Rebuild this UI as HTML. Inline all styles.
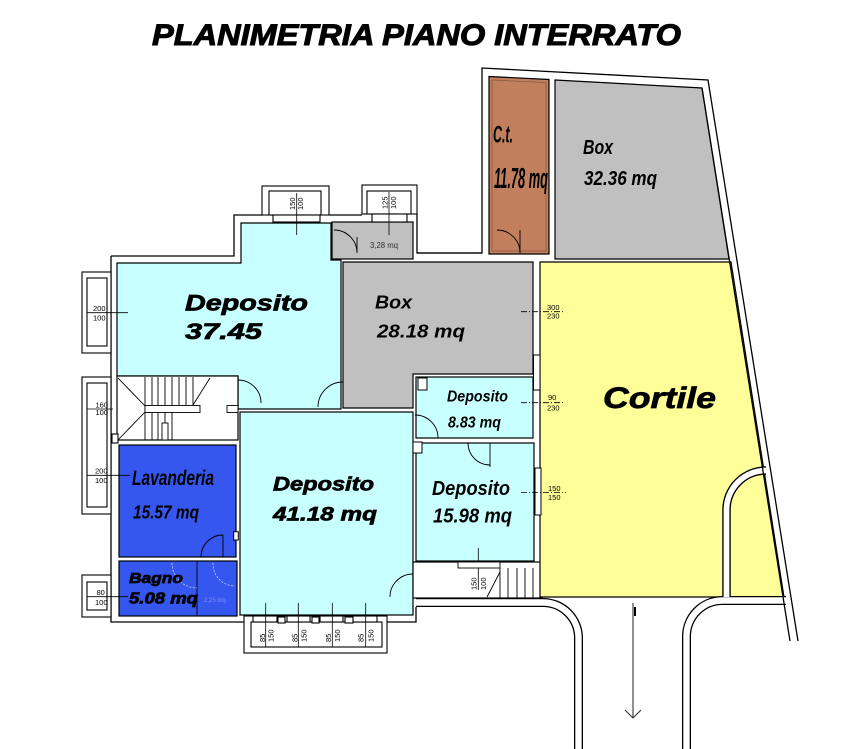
<!DOCTYPE html>
<html><head><meta charset="utf-8"><style>
html,body{margin:0;padding:0;background:#fff;overflow:hidden}
svg{display:block}
text{font-family:"Liberation Sans",Arial,sans-serif}
.r{font-weight:bold;font-style:italic;fill:#000}
.h{stroke:#000;stroke-width:0.7}
.d{font-size:7.5px;fill:#000}
</style></head><body>
<svg xmlns="http://www.w3.org/2000/svg" width="864" height="749" viewBox="0 0 864 749">
<rect width="864" height="749" fill="#fff"/>

<!-- Title -->
<text x="152" y="45" class="r" font-size="29.5" textLength="529" lengthAdjust="spacingAndGlyphs" stroke="#000" stroke-width="1">PLANIMETRIA PIANO INTERRATO</text>

<!-- Room fills -->
<g stroke="#000" stroke-width="1.2">
 <path fill="#c8ffff" d="M117,263H241V223H331V260H341V409H238V376H117Z"/>
 <rect x="332" y="222" width="81" height="37" fill="#c0c0c0"/>
 <path fill="#c0c0c0" d="M343,262H533V374H413V408H343Z"/>
 <rect x="117" y="376" width="121" height="64" fill="#fff"/>
 <rect x="119" y="445" width="117" height="112" fill="#3557f0"/>
 <rect x="119" y="561" width="118" height="55" fill="#3557f0"/>
 <rect x="240" y="412" width="173" height="203" fill="#c8ffff"/>
 <rect x="416" y="377" width="117" height="61" fill="#c8ffff"/>
 <rect x="416" y="443" width="118" height="118" fill="#c8ffff"/>
 <rect x="413" y="562" width="129" height="36" fill="#fff"/>
 <path fill="#c17f5e" d="M489,76.5L549,79.5V254H489Z"/>
 <path fill="#c0c0c0" d="M555,80L702,88L729,259H555Z"/>
 <path fill="#ffff99" d="M540,262H731L784,597H540Z"/>
</g>
<path d="M492,80L546,82.5V251H492Z" fill="none" stroke="#8a5a40" stroke-width="0.8"/>

<!-- Curbs -->
<g fill="none">
 <path d="M416,602.5H543A35.5,35.5 0 0 1 578.5,638V749" stroke="#000" stroke-width="9"/>
 <path d="M416,602.5H543A35.5,35.5 0 0 1 578.5,638V749" stroke="#fff" stroke-width="6.4"/>
 <path d="M786,600.5H722A36,36 0 0 0 686.5,636.5V749" stroke="#000" stroke-width="9"/>
 <path d="M786,600.5H722A36,36 0 0 0 686.5,636.5V749" stroke="#fff" stroke-width="6.4"/>
 <path d="M726.5,597V510A39.5,39.5 0 0 1 766,470.5" stroke="#000" stroke-width="8.5"/>
 <path d="M726.5,597V510A39.5,39.5 0 0 1 766,470.5" stroke="#fff" stroke-width="5.8"/>
</g>

<!-- Outer wall lines -->
<g fill="none" stroke="#000" stroke-width="1.3">
 <path d="M111,256H234V215H262M329,215H362M417,214V253H482V68L708,80L798,641"/>
 <path d="M702,88L790,641"/>
 <path d="M111,256V622H244M387,622H416V607"/>
 <path d="M417,253H482"/>
</g>

<!-- Top windows -->
<g stroke="#000" stroke-width="1.1" fill="#fff">
 <rect x="262" y="186" width="67" height="29"/>
 <rect x="269" y="191" width="52" height="24"/>
 <rect x="273" y="215" width="47" height="7"/>
 <rect x="362" y="185" width="55" height="29"/>
 <rect x="367" y="191" width="44" height="23"/>
 <rect x="372" y="214" width="35" height="8"/>
</g>
<g stroke="#000" stroke-width="0.8">
 <line x1="296.7" y1="193" x2="296.7" y2="235"/>
 <line x1="389" y1="192" x2="389" y2="235"/>
</g>
<text class="d" transform="translate(295,210) rotate(-90)">150</text>
<text class="d" transform="translate(303,210) rotate(-90)">100</text>
<text class="d" transform="translate(387.5,209) rotate(-90)">125</text>
<text class="d" transform="translate(396,209) rotate(-90)">100</text>

<!-- Left windows -->
<g stroke="#000" stroke-width="1.1" fill="#fff">
 <rect x="82" y="272" width="29" height="81"/>
 <rect x="87" y="278" width="20" height="68"/>
 <rect x="82" y="377" width="29" height="137"/>
 <rect x="87" y="383" width="20" height="124"/>
 <rect x="82" y="575" width="29" height="42"/>
 <rect x="87" y="582" width="20" height="28"/>
 <rect x="112" y="434" width="6" height="9"/>
</g>
<g stroke="#000" stroke-width="0.8">
 <line x1="87" y1="312.7" x2="128" y2="312.7"/>
 <line x1="87" y1="409" x2="113" y2="409"/>
 <line x1="87" y1="475.3" x2="130" y2="475.3"/>
 <line x1="87" y1="596.7" x2="128" y2="596.7"/>
</g>
<text class="d" x="93" y="311">200</text>
<text class="d" x="93" y="320.5">100</text>
<text class="d" x="95.5" y="407.5">160</text>
<text class="d" x="95.5" y="415">100</text>
<text class="d" x="95" y="473.5">200</text>
<text class="d" x="95" y="483">100</text>
<text class="d" x="96.5" y="595">80</text>
<text class="d" x="95" y="605">100</text>

<!-- Bottom window -->
<g stroke="#000" stroke-width="1.1" fill="#fff">
 <rect x="244" y="616" width="143" height="37"/>
 <rect x="251" y="622" width="131" height="25"/>
 <rect x="253" y="616" width="24" height="6"/>
 <rect x="287" y="616" width="23" height="6"/>
 <rect x="320" y="616" width="23" height="6"/>
 <rect x="353" y="616" width="24" height="6"/>
 <rect x="278" y="617" width="7" height="6"/>
 <rect x="312" y="617" width="7" height="6"/>
 <rect x="345" y="617" width="8" height="6"/>
</g>
<g stroke="#000" stroke-width="0.8">
 <line x1="265.7" y1="603" x2="265.7" y2="647"/>
 <line x1="298.3" y1="603" x2="298.3" y2="647"/>
 <line x1="332.3" y1="603" x2="332.3" y2="647"/>
 <line x1="365.7" y1="603" x2="365.7" y2="647"/>
</g>
<text class="d" transform="translate(265,642) rotate(-90)">85</text>
<text class="d" transform="translate(273.5,642) rotate(-90)">150</text>
<text class="d" transform="translate(297.7,642) rotate(-90)">85</text>
<text class="d" transform="translate(306.7,642) rotate(-90)">150</text>
<text class="d" transform="translate(331,642) rotate(-90)">85</text>
<text class="d" transform="translate(340,642) rotate(-90)">150</text>
<text class="d" transform="translate(363.5,642) rotate(-90)">85</text>
<text class="d" transform="translate(373.3,642) rotate(-90)">150</text>

<!-- East wall windows & dims -->
<g stroke="#000" stroke-width="1" fill="#fff">
 <rect x="533.5" y="355" width="6.5" height="35"/>
 <rect x="535" y="468" width="6" height="47"/>
 <rect x="418" y="378" width="9" height="12"/>
 <rect x="413" y="442" width="9" height="11"/>
 <rect x="233.7" y="531.7" width="4.6" height="8.3"/>
</g>
<g stroke="#000" stroke-width="0.8">
 <line x1="521" y1="311.7" x2="565" y2="311.7" stroke-dasharray="6,2,1,2"/>
 <line x1="521" y1="402.7" x2="565" y2="402.7" stroke-dasharray="6,2,1,2"/>
 <line x1="521" y1="492.4" x2="566" y2="492.4" stroke-dasharray="6,2,1,2"/>
 <line x1="478.3" y1="548" x2="478.3" y2="590"/>
</g>
<text class="d" x="547" y="310">300</text>
<text class="d" x="547" y="318.5">230</text>
<text class="d" x="548" y="400">90</text>
<text class="d" x="547" y="410.5">230</text>
<text class="d" x="548" y="491">150</text>
<text class="d" x="548" y="500">150</text>
<text class="d" transform="translate(476.7,590) rotate(-90)">150</text>
<text class="d" transform="translate(486,590) rotate(-90)">100</text>

<!-- Left stairs -->
<g stroke="#000" stroke-width="0.9" fill="none">
 <line x1="118" y1="378" x2="145" y2="406"/>
 <line x1="118" y1="440" x2="145" y2="412"/>
 <line x1="145" y1="377" x2="145" y2="440"/>
 <line x1="152" y1="377" x2="152" y2="405"/>
 <line x1="158" y1="377" x2="158" y2="405"/>
 <line x1="165" y1="377" x2="165" y2="405"/>
 <line x1="172" y1="377" x2="172" y2="405"/>
 <line x1="179" y1="377" x2="179" y2="405"/>
 <line x1="186" y1="377" x2="186" y2="405"/>
 <line x1="193" y1="377" x2="193" y2="405"/>
 <line x1="152" y1="412" x2="152" y2="440"/>
 <line x1="158" y1="412" x2="158" y2="440"/>
 <line x1="165" y1="412" x2="165" y2="440"/>
 <line x1="172" y1="412" x2="172" y2="440"/>
 <line x1="193" y1="405" x2="210" y2="378"/>
 <rect x="145" y="405.5" width="55" height="7" fill="#fff"/>
 <rect x="227" y="405.5" width="11" height="7" fill="#fff"/>
 <rect x="162" y="423" width="6" height="17" fill="#fff"/>
</g>

<!-- Corridor stairs -->
<g stroke="#000" stroke-width="0.9" fill="none">
 <rect x="458" y="562" width="42" height="6" fill="#fff"/>
 <line x1="500" y1="568" x2="500" y2="598"/>
 <line x1="508" y1="568" x2="508" y2="598"/>
 <line x1="517" y1="568" x2="517" y2="598"/>
 <line x1="525" y1="568" x2="525" y2="598"/>
 <line x1="533" y1="568" x2="533" y2="598"/>
 <line x1="487" y1="597" x2="500" y2="572"/>
</g>

<!-- Doors -->
<g stroke="#000" stroke-width="0.9" fill="none">
 <path d="M238,380A23,23 0 0 1 261,403"/>
 <path d="M318,407A25,25 0 0 1 343,382"/>
 <path d="M334,230A23,23 0 0 1 357,253M357,237V253"/>
 <path d="M497,230A23,23 0 0 1 520,253M520,230V253"/>
 <path d="M415,415A23,23 0 0 1 438,438"/>
 <path d="M468,443A22,22 0 0 0 490,465M490,443V467"/>
 <path d="M390,597A23,23 0 0 1 413,574"/>
 <path d="M201,557A22,22 0 0 1 223,535M223,535V557"/>
 <line x1="197" y1="561" x2="197" y2="616"/>
</g>
<g stroke="#c8d0ff" stroke-width="0.8" fill="none" stroke-dasharray="2,1.5">
 <path d="M172,563A25,25 0 0 0 197,588"/>
 <path d="M213,563A22,22 0 0 0 235,586"/>
</g>
<rect x="239" y="605" width="0" height="0"/>

<!-- Arrow -->
<g stroke="#333" stroke-width="1.1" fill="none">
 <line x1="633" y1="603" x2="633" y2="718"/>
 <polyline points="625,710 633,718 641,710"/>
</g>
<rect x="634" y="607" width="2" height="9" fill="#000"/>

<!-- Room labels -->
<text class="r h" x="185" y="310.5" font-size="22" textLength="123" lengthAdjust="spacingAndGlyphs">Deposito</text>
<text class="r h" x="185" y="339" font-size="22" textLength="77" lengthAdjust="spacingAndGlyphs">37.45</text>
<text class="r" x="375" y="308.5" font-size="18.5" textLength="37" lengthAdjust="spacingAndGlyphs">Box</text>
<text class="r" x="377" y="337.5" font-size="18.5" textLength="88" lengthAdjust="spacingAndGlyphs">28.18 mq</text>
<text class="r" x="447" y="401.5" font-size="16" textLength="61" lengthAdjust="spacingAndGlyphs">Deposito</text>
<text class="r" x="448" y="427.5" font-size="16" textLength="53" lengthAdjust="spacingAndGlyphs">8.83 mq</text>
<text class="r" x="432" y="495" font-size="20" textLength="78" lengthAdjust="spacingAndGlyphs">Deposito</text>
<text class="r" x="433" y="522.5" font-size="20" textLength="79" lengthAdjust="spacingAndGlyphs">15.98 mq</text>
<text class="r h" x="273" y="490.5" font-size="19.5" textLength="101" lengthAdjust="spacingAndGlyphs">Deposito</text>
<text class="r h" x="273" y="520.5" font-size="19.5" textLength="104" lengthAdjust="spacingAndGlyphs">41.18 mq</text>
<text class="r" x="132" y="485" font-size="21" textLength="82" lengthAdjust="spacingAndGlyphs">Lavanderia</text>
<text class="r" x="133" y="518.5" font-size="18" textLength="66" lengthAdjust="spacingAndGlyphs">15.57 mq</text>
<text class="r h" x="129" y="583" font-size="15" textLength="54" lengthAdjust="spacingAndGlyphs">Bagno</text>
<text class="r h" x="129" y="603.5" font-size="15.5" textLength="69" lengthAdjust="spacingAndGlyphs">5.08 mq</text>
<text x="204" y="602" font-size="6" fill="#7f93f5">2,25 mq</text>
<text class="r" x="493" y="142.5" font-size="24" textLength="20" lengthAdjust="spacingAndGlyphs">C.t.</text>
<text class="r" x="494" y="188" font-size="29" textLength="54" lengthAdjust="spacingAndGlyphs">11.78 mq</text>
<text class="r" x="583" y="154" font-size="20" textLength="30" lengthAdjust="spacingAndGlyphs">Box</text>
<text class="r" x="584" y="185" font-size="20" textLength="73" lengthAdjust="spacingAndGlyphs">32.36 mq</text>
<text class="r h" x="603" y="408" font-size="29.5" textLength="113" lengthAdjust="spacingAndGlyphs">Cortile</text>
<text x="370" y="248" font-size="8" fill="#333" textLength="28" lengthAdjust="spacingAndGlyphs">3,28 mq</text>
</svg>
</body></html>
